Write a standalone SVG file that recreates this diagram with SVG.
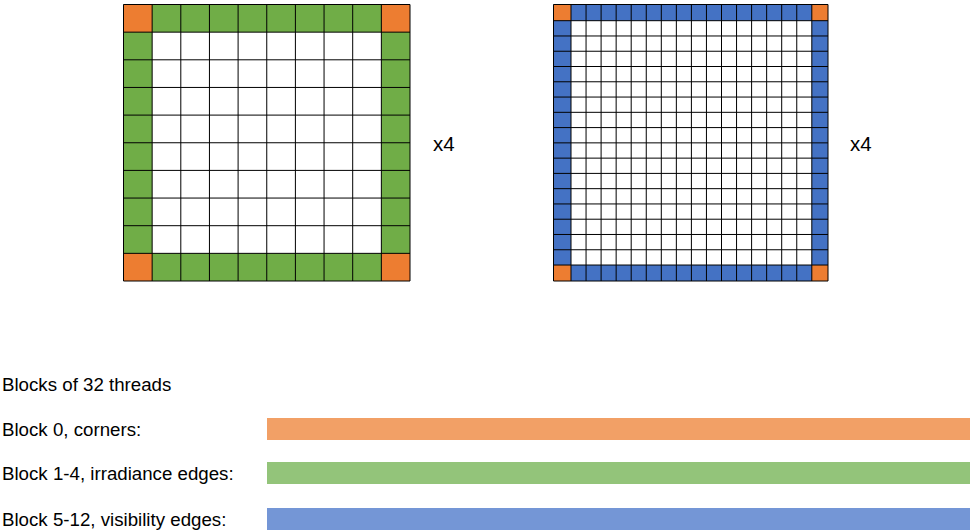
<svg xmlns="http://www.w3.org/2000/svg" width="971" height="531" viewBox="0 0 971 531">
<style>
text{font-family:"Liberation Sans",Arial,sans-serif;fill:#000}
.lbl{font-size:18.7px}
.mul{font-size:20.5px}
.grid{fill:none;stroke:#000;stroke-width:1}
.cor{fill:#ED7D31}
.irr{fill:#70AD47}
.vis{fill:#4472C4}
</style>
<rect width="971" height="531" fill="#fff"/>
<g id="irradiance-probe">
<rect x="123.5" y="4.5" width="286.5" height="276.5" fill="#fff"/>
<rect class="irr" x="123.5" y="4.5" width="286.5" height="27.65"/>
<rect class="irr" x="123.5" y="253.35" width="286.5" height="27.65"/>
<rect class="irr" x="123.5" y="4.5" width="28.65" height="276.5"/>
<rect class="irr" x="381.35" y="4.5" width="28.65" height="276.5"/>
<rect class="cor" x="123.5" y="4.5" width="28.65" height="27.65"/>
<rect class="cor" x="381.35" y="4.5" width="28.65" height="27.65"/>
<rect class="cor" x="123.5" y="253.35" width="28.65" height="27.65"/>
<rect class="cor" x="381.35" y="253.35" width="28.65" height="27.65"/>
<path class="grid" d="M123.5 4.5V281M152.15 4.5V281M180.8 4.5V281M209.45 4.5V281M238.1 4.5V281M266.75 4.5V281M295.4 4.5V281M324.05 4.5V281M352.7 4.5V281M381.35 4.5V281M410 4.5V281M123.5 4.5H410M123.5 32.15H410M123.5 59.8H410M123.5 87.45H410M123.5 115.1H410M123.5 142.75H410M123.5 170.4H410M123.5 198.05H410M123.5 225.7H410M123.5 253.35H410M123.5 281H410"/>
<text class="mul" x="433" y="151">x4</text>
</g>
<g id="visibility-probe">
<rect x="553.5" y="4.5" width="274.5" height="276.5" fill="#fff"/>
<rect class="vis" x="553.5" y="4.5" width="274.5" height="16.2"/>
<rect class="vis" x="553.5" y="265.02" width="274.5" height="15.98"/>
<rect class="vis" x="553.5" y="4.5" width="17.5" height="276.5"/>
<rect class="vis" x="811.8" y="4.5" width="16.2" height="276.5"/>
<rect class="cor" x="553.5" y="4.5" width="17.5" height="16.2"/>
<rect class="cor" x="811.8" y="4.5" width="16.2" height="16.2"/>
<rect class="cor" x="553.5" y="265.02" width="17.5" height="15.98"/>
<rect class="cor" x="811.8" y="265.02" width="16.2" height="15.98"/>
<path class="grid" d="M553.5 4.5V281M571 4.5V281M586.05 4.5V281M601.1 4.5V281M616.15 4.5V281M631.2 4.5V281M646.25 4.5V281M661.3 4.5V281M676.35 4.5V281M691.4 4.5V281M706.45 4.5V281M721.5 4.5V281M736.55 4.5V281M751.6 4.5V281M766.65 4.5V281M781.7 4.5V281M796.75 4.5V281M811.8 4.5V281M828 4.5V281M553.5 4.5H828M553.5 20.7H828M553.5 35.97H828M553.5 51.24H828M553.5 66.51H828M553.5 81.78H828M553.5 97.05H828M553.5 112.32H828M553.5 127.59H828M553.5 142.86H828M553.5 158.13H828M553.5 173.4H828M553.5 188.67H828M553.5 203.94H828M553.5 219.21H828M553.5 234.48H828M553.5 249.75H828M553.5 265.02H828M553.5 281H828"/>
<text class="mul" x="850" y="151">x4</text>
</g>
<g id="legend-title">
<text class="lbl" x="2" y="391">Blocks of 32 threads</text>
</g>
<g id="block-0">
<text class="lbl" x="2" y="436">Block 0, corners:</text>
<rect x="267" y="418" width="703" height="22" fill="#F2A066"/>
</g>
<g id="block-1-4">
<text class="lbl" x="2" y="480">Block 1-4, irradiance edges:</text>
<rect x="267" y="462" width="703" height="22" fill="#93C47A"/>
</g>
<g id="block-5-12">
<text class="lbl" x="2" y="526">Block 5-12, visibility edges:</text>
<rect x="267" y="508" width="703" height="22" fill="#7496D6"/>
</g>
</svg>
